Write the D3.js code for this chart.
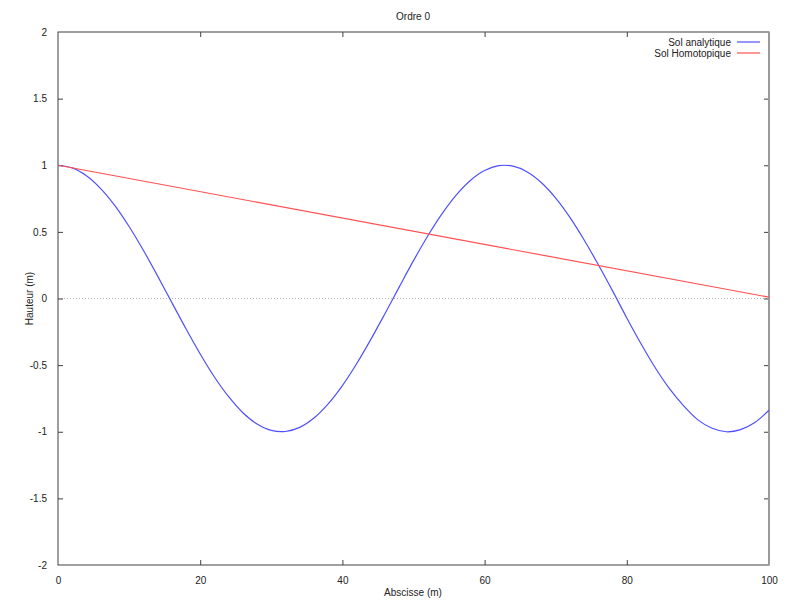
<!DOCTYPE html>
<html>
<head>
<meta charset="utf-8">
<script src="https://cdn.jsdelivr.net/npm/d3@7"></script>
<style>
  body { margin: 0; background: #fff; }
  svg { display: block; font-family: "Liberation Sans", Arial, sans-serif; }
</style>
</head>
<body>
<svg id="chart" width="800" height="600"></svg>
<script>
// Data
const title = "Ordre 0";
const xLabel = "Abscisse (m)";
const yLabel = "Hauteur (m)";
const xTicks = [0, 20, 40, 60, 80, 100];
const yTicks = [-2, -1.5, -1, -0.5, 0, 0.5, 1, 1.5, 2];

const analytiqueX = [0,2,4,6,8,10,12,14,16,18,20,22,24,26,28,30,32,34,36,38,40,42,44,46,48,50,
  52,54,56,58,60,62,64,66,68,70,72,74,76,78,80,82,84,86,88,90,92,94,96,98,100];
const analytiqueY = [1.000,0.980,0.921,0.825,0.697,0.540,0.362,0.170,-0.029,-0.227,-0.416,-0.589,
  -0.737,-0.857,-0.942,-0.990,-0.998,-0.967,-0.897,-0.791,-0.654,-0.490,-0.307,-0.112,0.087,0.284,
  0.469,0.635,0.776,0.886,0.960,0.997,0.993,0.950,0.869,0.754,0.609,0.439,0.253,0.057,-0.146,
  -0.340,-0.520,-0.677,-0.806,-0.911,-0.974,-1.000,-0.984,-0.930,-0.839];

const homotopiqueX = [0, 100];
const homotopiqueY = [1.0, 0.01];

const seriesNames = ["Sol analytique", "Sol Homotopique"];
const seriesColors = ["#5050ff", "#ff5050"];

(function () {
const svg = d3.select("#chart");
const pL = 58, pR = 769, pT = 32, pB = 565;
const x = d3.scaleLinear().domain([0, 100]).range([pL, pR]);
const y = d3.scaleLinear().domain([-2, 2]).range([pB, pT]);

const axisColor = "#404040";
const tickLen = 5;
const fontSize = 10;

// zero line (dotted)
svg.append("line")
  .attr("x1", x(0)).attr("x2", x(100)).attr("y1", y(0)).attr("y2", y(0))
  .attr("stroke", "#b0b0b0").attr("stroke-width", 1).attr("stroke-dasharray", "1,2");

// axes via d3 axes (ticks inward)
const gx = svg.append("g").attr("transform", `translate(0,${pB})`)
  .call(d3.axisBottom(x).tickValues(xTicks).tickFormat(d3.format("d")).tickSizeInner(-tickLen).tickSizeOuter(0).tickPadding(12));
const gxt = svg.append("g").attr("transform", `translate(0,${pT})`)
  .call(d3.axisTop(x).tickValues(xTicks).tickFormat("").tickSizeInner(-tickLen).tickSizeOuter(0));
const gy = svg.append("g").attr("transform", `translate(${pL},0)`)
  .call(d3.axisLeft(y).tickValues(yTicks).tickFormat(d => String(d)).tickSizeInner(-tickLen).tickSizeOuter(0).tickPadding(11));
const gyr = svg.append("g").attr("transform", `translate(${pR},0)`)
  .call(d3.axisRight(y).tickValues(yTicks).tickFormat("").tickSizeInner(-tickLen).tickSizeOuter(0));

[gx, gxt, gy, gyr].forEach(g => {
  g.select(".domain").remove();
  g.selectAll(".tick line").attr("stroke", axisColor);
  g.selectAll(".tick text").attr("fill", "#222").style("font-size", fontSize + "px")
    .style("font-family", "'Liberation Sans', Arial, sans-serif");
});
gy.selectAll(".tick line").filter(d => d === 2 || d === -2).remove();
gyr.selectAll(".tick line").filter(d => d === 2 || d === -2).remove();
gx.selectAll(".tick line").filter(d => d === 0 || d === 100).remove();
gxt.selectAll(".tick line").filter(d => d === 0 || d === 100).remove();

// frame
svg.append("rect")
  .attr("x", pL).attr("y", pT).attr("width", pR - pL).attr("height", pB - pT)
  .attr("fill", "none").attr("stroke", axisColor).attr("stroke-width", 1);
svg.append("line").attr("x1", pR).attr("x2", pR).attr("y1", pT).attr("y2", pB)
  .attr("stroke", "#9a9a9a").attr("stroke-width", 2);

// series
const line = d3.line().x(d => x(d[0])).y(d => y(d[1])).curve(d3.curveCatmullRom);
const dataA = analytiqueX.map((v, i) => [v, analytiqueY[i]]);
const dataH = homotopiqueX.map((v, i) => [v, homotopiqueY[i]]);

svg.append("path").datum(dataA).attr("d", line)
  .attr("fill", "none").attr("stroke", seriesColors[0]).attr("stroke-width", 1.2);
svg.append("path").datum(dataH).attr("d", d3.line().x(d => x(d[0])).y(d => y(d[1])))
  .attr("fill", "none").attr("stroke", seriesColors[1]).attr("stroke-width", 1.2);

// legend
seriesNames.forEach((name, i) => {
  const ly = 42 + i * 11;
  svg.append("text").attr("x", 731).attr("y", ly + 3.5).attr("text-anchor", "end")
    .style("font-size", fontSize + "px").attr("fill", "#222").text(name);
  svg.append("line").attr("x1", 737).attr("x2", 760).attr("y1", ly).attr("y2", ly)
    .attr("stroke", seriesColors[i]).attr("stroke-width", 1.2);
});

// titles
svg.append("text").attr("x", 413).attr("y", 20).attr("text-anchor", "middle")
  .style("font-size", fontSize + "px").attr("fill", "#222").text(title);
svg.append("text").attr("x", 413).attr("y", 596).attr("text-anchor", "middle")
  .style("font-size", fontSize + "px").attr("fill", "#222").text(xLabel);
svg.append("text").attr("transform", `translate(33,${y(0)}) rotate(-90)`).attr("text-anchor", "middle")
  .style("font-size", fontSize + "px").attr("fill", "#222").text(yLabel);
})();
</script>
</body>
</html>
